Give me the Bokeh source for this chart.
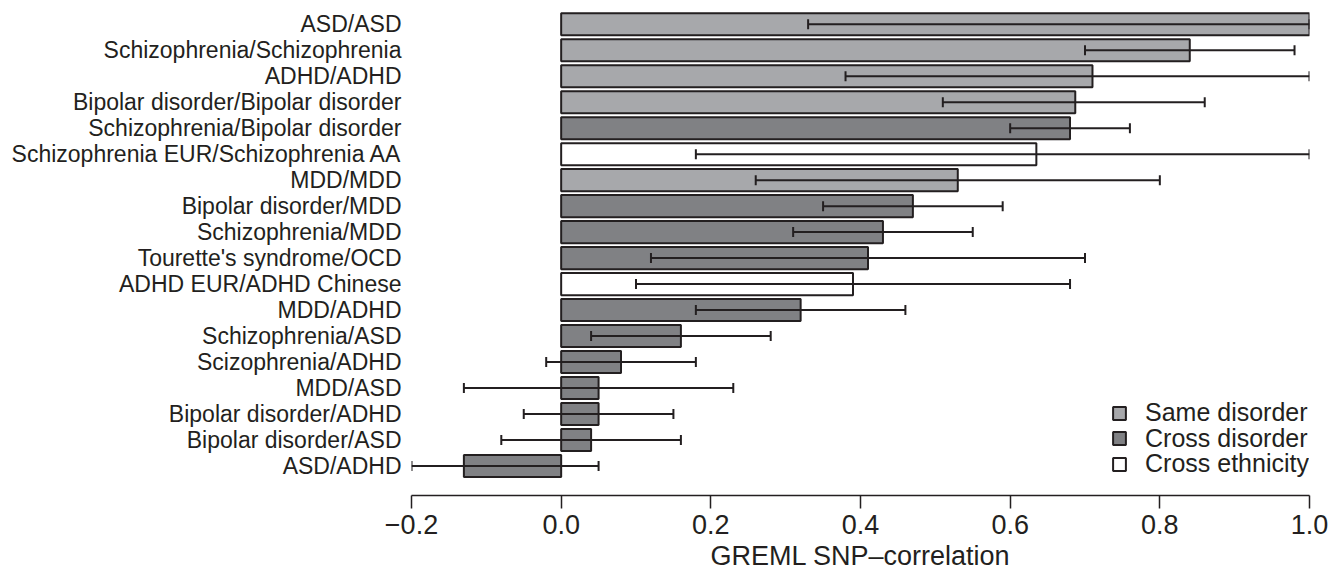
from bokeh.plotting import figure
from bokeh.models import (ColumnDataSource, Range1d, FixedTicker, Whisker, TeeHead,
                          Legend, LegendItem)
from bokeh.embed import file_html
from bokeh.resources import INLINE

labels = ["ASD/ASD", "Schizophrenia/Schizophrenia", "ADHD/ADHD",
          "Bipolar disorder/Bipolar disorder", "Schizophrenia/Bipolar disorder",
          "Schizophrenia EUR/Schizophrenia AA", "MDD/MDD", "Bipolar disorder/MDD",
          "Schizophrenia/MDD", "Tourette's syndrome/OCD", "ADHD EUR/ADHD Chinese",
          "MDD/ADHD", "Schizophrenia/ASD", "Scizophrenia/ADHD", "MDD/ASD",
          "Bipolar disorder/ADHD", "Bipolar disorder/ASD", "ASD/ADHD"]
values = [1.0, 0.84, 0.71, 0.687, 0.68, 0.635, 0.53, 0.47, 0.43, 0.41, 0.39, 0.32,
          0.16, 0.08, 0.05, 0.05, 0.04, -0.13]
lower = [0.33, 0.70, 0.38, 0.51, 0.60, 0.18, 0.26, 0.35, 0.31, 0.12, 0.10, 0.18,
         0.04, -0.02, -0.13, -0.05, -0.08, -0.2]
upper = [1.0, 0.98, 1.0, 0.86, 0.76, 1.0, 0.80, 0.59, 0.55, 0.70, 0.68, 0.46,
         0.28, 0.18, 0.23, 0.15, 0.16, 0.05]
groups = ["Same disorder", "Same disorder", "Same disorder", "Same disorder",
          "Cross disorder", "Cross ethnicity", "Same disorder", "Cross disorder",
          "Cross disorder", "Cross disorder", "Cross ethnicity", "Cross disorder",
          "Cross disorder", "Cross disorder", "Cross disorder", "Cross disorder",
          "Cross disorder", "Cross disorder"]
legend_order = ["Same disorder", "Cross disorder", "Cross ethnicity"]
fills = {"Same disorder": "#a7a8ab", "Cross disorder": "#808184", "Cross ethnicity": "#ffffff"}
x_ticks = [-0.2, 0.0, 0.2, 0.4, 0.6, 0.8, 1.0]
x_tick_labels = ["\u22120.2", "0.0", "0.2", "0.4", "0.6", "0.8", "1.0"]
x_title = "GREML SNP\u2013correlation"

n = len(labels)
ypos = [n - 1 - i for i in range(n)]
INK = "#231f20"
FONT = "Liberation Sans"

p = figure(width=1329, height=581, output_backend="svg", toolbar_location=None,
           x_range=Range1d(-0.2, 1.0), y_range=Range1d(-1.137, 17.53),
           min_border_left=411, min_border_right=20, min_border_top=10,
           min_border_bottom=86)
p.outline_line_color = None
p.grid.visible = False
p.background_fill_color = "white"

renderers = {}
for g in legend_order:
    idx = [i for i in range(n) if groups[i] == g]
    src = ColumnDataSource(dict(y=[ypos[i] for i in idx], v=[values[i] for i in idx]))
    r = p.hbar(y="y", left=0, right="v", height=0.85, source=src,
               fill_color=fills[g], line_color=INK, line_width=2)
    renderers[g] = r

err_src = ColumnDataSource(dict(y=ypos, lower=lower, upper=upper))
w = Whisker(base="y", lower="lower", upper="upper", dimension="width", source=err_src,
            line_color=INK, line_width=2, level="overlay",
            upper_head=TeeHead(size=10, line_color=INK, line_width=2),
            lower_head=TeeHead(size=10, line_color=INK, line_width=2))
p.add_layout(w)

ya = p.yaxis[0]
ya.ticker = FixedTicker(ticks=ypos)
ya.major_label_overrides = {ypos[i]: labels[i] for i in range(n)}
ya.axis_line_color = None
ya.major_tick_line_color = None
ya.minor_tick_line_color = None
ya.major_tick_out = 0
ya.major_tick_in = 0
ya.major_label_standoff = 10
ya.major_label_text_font = FONT
ya.major_label_text_font_size = "23px"
ya.major_label_text_color = INK

xa = p.xaxis[0]
xa.ticker = FixedTicker(ticks=x_ticks)
xa.major_label_overrides = {x_ticks[i]: x_tick_labels[i] for i in range(len(x_ticks))}
xa.axis_line_color = INK
xa.axis_line_width = 1.5
xa.major_tick_line_color = INK
xa.major_tick_line_width = 1.5
xa.major_tick_out = 13
xa.major_tick_in = 0
xa.minor_tick_line_color = None
xa.major_label_standoff = 6
xa.major_label_text_font = FONT
xa.major_label_text_font_size = "27px"
xa.major_label_text_color = INK
xa.axis_label = x_title
xa.axis_label_standoff = 4
xa.axis_label_text_font = FONT
xa.axis_label_text_font_size = "27px"
xa.axis_label_text_font_style = "normal"
xa.axis_label_text_color = INK

legend_y = {"Same disorder": 68, "Cross disorder": 42.5, "Cross ethnicity": 17}
for g in legend_order:
    lg = Legend(items=[LegendItem(label=g, renderers=[renderers[g]])],
                location=(700, legend_y[g]), orientation="vertical",
                glyph_width=16, glyph_height=16,
                label_text_font=FONT, label_text_font_size="25px", label_text_color=INK,
                label_standoff=18, padding=0, margin=0, spacing=0,
                border_line_color=None, background_fill_alpha=0)
    p.add_layout(lg)

open("out.html", "w").write(file_html(p, INLINE))
